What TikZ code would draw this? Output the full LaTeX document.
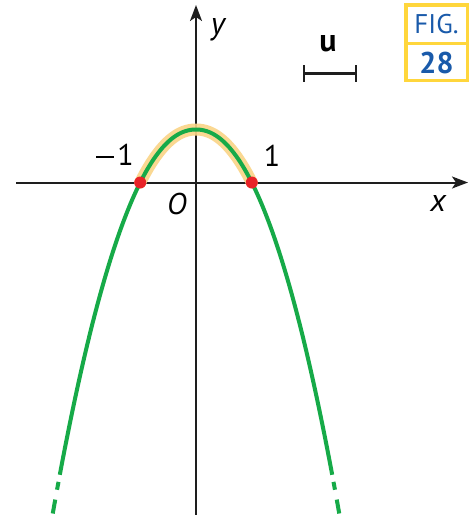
\documentclass[tikz,border=0pt]{standalone}
\usepackage{fontspec}
\setmainfont{PT Sans}
\usetikzlibrary{arrows.meta}
\definecolor{axisc}{RGB}{30,30,30}
\definecolor{curvegreen}{RGB}{22,170,72}
\definecolor{hl}{RGB}{250,212,135}
\definecolor{dotred}{RGB}{232,35,40}
\definecolor{figyellow}{RGB}{255,214,60}
\definecolor{figblue}{RGB}{25,90,170}
\tikzset{
  axisline/.style={draw=axisc, line width=2pt, -{Stealth[length=16pt,width=12pt,inset=4pt]}},
  curveline/.style={draw=curvegreen, line width=4pt},
  hlband/.style={draw=hl, line width=12pt, opacity=0.9, line cap=round},
  rootdot/.style={circle, fill=dotred, inner sep=0pt, minimum size=12pt},
  lbl/.style={inner sep=0pt, font=\fontsize{30}{36}\selectfont},
  figbox/.style={draw=figyellow, line width=3.5pt, fill=white},
  figtxt/.style={inner sep=0pt, text=figblue},
}
\begin{document}
\begin{tikzpicture}[x=1pt,y=-1pt]
\useasboundingbox (0,0) rectangle (469,515);
\fill[white] (0,0) rectangle (469,515);

% axes
\coordinate (xs) at (16,182.5);
\coordinate (xe) at (468,182.5);
\coordinate (ys) at (196,515);
\coordinate (ye) at (196,5);
\draw[axisline] (xs) -- (xe);
\draw[axisline] (ys) -- (ye);

% highlighted arc between roots
\draw[hlband] plot[domain=-55.8:55.8, samples=60, smooth]
  ({196+\x}, {182.5-53*(1-((abs(\x)+0.01)/55.8)^2.1)});

% main curve (solid part)
\draw[curveline] plot[domain=-136.2:136.2, samples=120, smooth]
  ({196+\x}, {182.5-53*(1-((abs(\x)+0.01)/55.8)^2.1)});

% dashed continuations
\draw[curveline, dash pattern=on 0pt off 7pt on 8pt off 10pt on 14pt]
  plot[domain=292.5:331, samples=12, smooth]
  ({196-55.8*(1+\x/53)^(1/2.1)}, {182.5+\x});
\draw[curveline, dash pattern=on 0pt off 7pt on 8pt off 10pt on 14pt]
  plot[domain=292.5:331, samples=12, smooth]
  ({196+55.8*(1+\x/53)^(1/2.1)}, {182.5+\x});

% roots
\node[rootdot] (rootL) at (140.2,182.5) {};
\node[rootdot] (rootR) at (251.8,182.5) {};

% labels
\node[lbl] (lm1) at (115,155) {\rule[7.5pt]{18pt}{2.2pt}\hspace{3pt}1};
\node[lbl] (l1) at (272,156) {1};
\node[lbl, font=\fontsize{30}{36}\selectfont\itshape] (lO) at (177,204) {O};
\node[lbl, font=\fontsize{32}{36}\selectfont\itshape] (lx) at (438,203) {x};
\node[lbl, font=\fontsize{32}{36}\selectfont\itshape] (ly) at (218,30) {y};

% unit bar
\node[lbl, font=\fontsize{32}{36}\selectfont\bfseries] (lu) at (328,44) {u};
\coordinate (ua) at (304,73.3);
\coordinate (ub) at (356,73.3);
\draw[axisc, line width=3pt] (ua) -- (ub);
\draw[axisc, line width=2pt] ([yshift=-8.5pt]ua) -- ([yshift=8.5pt]ua);
\draw[axisc, line width=2pt] ([yshift=-8.5pt]ub) -- ([yshift=8.5pt]ub);

% FIG box
\draw[figbox] (405.75,4.75) rectangle (467.25,80.25);
\draw[draw=figyellow, line width=3.5pt] (405.75,43.5) -- (467.25,43.5);
\node[figtxt, font=\fontsize{27}{30}\selectfont] (fig) at (436.5,24) {FIG.};
\node[figtxt, font=\fontsize{30}{34}\selectfont\bfseries] (num) at (436.5,62.5) {28};
\end{tikzpicture}
\end{document}
